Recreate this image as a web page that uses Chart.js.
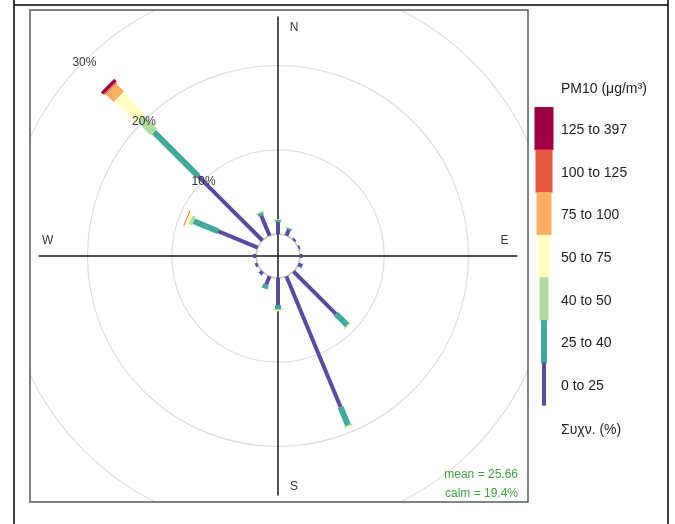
<!DOCTYPE html>
<html>
<head>
<meta charset="utf-8">
<script src="https://cdn.jsdelivr.net/npm/chart.js@4/dist/chart.umd.min.js"></script>
<style>
  html, body { margin: 0; padding: 0; background: #fff; }
  canvas { display: block; }
</style>
</head>
<body>
<canvas id="rose" width="675" height="524"></canvas>
<script>
// wind sectors (deg from north) and PM10 bins
const directions = [0, 22.5, 45, 67.5, 90, 112.5, 135, 157.5, 180, 202.5, 225, 247.5, 270, 292.5, 315, 337.5];
const binLabels  = ['0 to 25', '25 to 40', '40 to 50', '50 to 75', '75 to 100', '100 to 125', '125 to 397'];
const binColours = ['#5a4aa0', '#3fa99c', '#aedc9f', '#ffffbf', '#fbae60', '#e8583f', '#9e0142'];
const binWidths  = [4, 6, 9, 12, 15, 17, 19];

// frequency (%) per sector, one array per bin
const pm0_25    = [1.4, 0.8, 0.25, 0.2, 0.3, 0.5, 7.1, 16.8, 3.2, 1.1, 0.4, 0.3, 0.35, 5.1, 10.8, 2.6];
const pm25_40   = [0.25, 0.15, 0, 0, 0, 0.05, 1.9, 2.3, 0.5, 0.45, 0.05, 0, 0.03, 3.1, 7.4, 0.3];
const pm40_50   = [0.05, 0.03, 0, 0, 0, 0, 0.1, 0.15, 0.1, 0.05, 0, 0, 0, 0.4, 2.2, 0.1];
const pm50_75   = [0.1, 0.02, 0, 0, 0, 0, 0.15, 0.2, 0.15, 0.02, 0, 0, 0, 0.4, 3.7, 0.1];
const pm75_100  = [0, 0, 0, 0, 0, 0, 0, 0, 0, 0, 0, 0, 0, 0.05, 1.3, 0];
const pm100_125 = [0, 0, 0, 0, 0, 0, 0, 0, 0, 0, 0, 0, 0, 0.1, 0.2, 0.02];
const pm125_397 = [0, 0, 0, 0, 0, 0, 0, 0, 0, 0, 0, 0, 0, 0, 0.4, 0];
const binSeries = [pm0_25, pm25_40, pm40_50, pm50_75, pm75_100, pm100_125, pm125_397];

const gridPct = [10, 20, 30];
const calmOffset = 2.6;     // radius of the calm circle, in % units
const axisReach = 28.4;
const meanText = 'mean = 25.66';
const calmText = 'calm = 19.4%';
const legendTitle = 'PM10 (\u03bcg/m\u00b3)';
const freqTitle = '\u03a3\u03c5\u03c7\u03bd. (%)';

const FONT = '"Liberation Sans", Arial, sans-serif';

// build one line dataset per bin, paddles split by null points
const cum = directions.map(() => calmOffset);
const datasets = binSeries.map((vals, b) => {
  const pts = [];
  vals.forEach((v, i) => {
    if (v <= 0) return;
    const a = directions[i] * Math.PI / 180;
    const r0 = cum[i], r1 = cum[i] + v;
    cum[i] = r1;
    pts.push({ x: r0 * Math.sin(a), y: r0 * Math.cos(a) });
    pts.push({ x: r1 * Math.sin(a), y: r1 * Math.cos(a) });
    pts.push({ x: null, y: null });
  });
  return {
    label: binLabels[b],
    data: pts,
    borderColor: binColours[b],
    borderWidth: binWidths[b],
    borderCapStyle: 'butt',
    pointRadius: 0,
    spanGaps: false,
    tension: 0.0001  // keeps the normal path (fast path merges near-vertical points)
  };
});

const rosePlugin = {
  id: 'rose',
  beforeDatasetsDraw(chart) {
    const ctx = chart.ctx, xs = chart.scales.x, ys = chart.scales.y, area = chart.chartArea;
    const cx = xs.getPixelForValue(0), cy = ys.getPixelForValue(0);
    const unit = xs.getPixelForValue(1) - cx;
    ctx.save();
    ctx.beginPath();
    ctx.rect(area.left, area.top, area.right - area.left, area.bottom - area.top);
    ctx.clip();
    ctx.strokeStyle = '#dcdcdc';
    ctx.lineWidth = 1.2;
    gridPct.forEach(g => {
      ctx.beginPath();
      ctx.arc(cx, cy, (calmOffset + g) * unit, 0, Math.PI * 2);
      ctx.stroke();
    });
    ctx.strokeStyle = '#c4c4c4';
    ctx.lineWidth = 1.5;
    ctx.beginPath();
    ctx.arc(cx, cy, calmOffset * unit, 0, Math.PI * 2);
    ctx.stroke();
    // cross hair
    const reach = axisReach * unit;
    ctx.strokeStyle = '#1a1a1a';
    ctx.lineWidth = 1.5;
    ctx.beginPath();
    ctx.moveTo(cx, cy - reach); ctx.lineTo(cx, cy + reach);
    ctx.moveTo(cx - reach, cy); ctx.lineTo(cx + reach, cy);
    ctx.stroke();
    // compass letters
    ctx.fillStyle = '#333';
    ctx.font = '12px ' + FONT;
    ctx.textAlign = 'center';
    ctx.textBaseline = 'middle';
    const lr = 27.1 * unit;
    ctx.fillText('N', cx + 16, cy - lr);
    ctx.fillText('S', cx + 16, cy + lr + 2);
    ctx.fillText('E', cx + lr - 2, cy - 15);
    ctx.fillText('W', cx - lr - 2, cy - 15);
    ctx.restore();
  },
  afterDatasetsDraw(chart) {
    const ctx = chart.ctx, xs = chart.scales.x, ys = chart.scales.y, area = chart.chartArea;
    const cx = xs.getPixelForValue(0), cy = ys.getPixelForValue(0);
    const unit = xs.getPixelForValue(1) - cx;
    ctx.save();
    // percent labels along the NW diagonal
    ctx.fillStyle = '#333';
    ctx.font = '12px ' + FONT;
    ctx.textAlign = 'center';
    ctx.textBaseline = 'middle';
    gridPct.forEach(g => {
      const r = (calmOffset + g) * unit - 1;
      ctx.fillText(g + '%', cx - r * Math.SQRT1_2, cy - r * Math.SQRT1_2);
    });
    // plot frame
    ctx.strokeStyle = '#5a5a5a';
    ctx.lineWidth = 1.5;
    ctx.strokeRect(area.left, area.top, area.right - area.left, area.bottom - area.top);
    // mean / calm
    ctx.fillStyle = '#3f9f3f';
    ctx.font = '12px ' + FONT;
    ctx.textAlign = 'right';
    ctx.fillText(meanText, area.right - 10, area.bottom - 27);
    ctx.fillText(calmText, area.right - 10, area.bottom - 8);
    // legend
    const lx = 544, top = 107, h = 42.6;
    ctx.textAlign = 'left';
    ctx.fillStyle = '#222';
    ctx.font = '14px ' + FONT;
    ctx.fillText(legendTitle, 561, 89);
    for (let k = binLabels.length - 1, j = 0; k >= 0; k--, j++) {
      const w = binWidths[k];
      ctx.fillStyle = binColours[k];
      ctx.fillRect(lx - w / 2, top + j * h, w, h + 0.5);
      ctx.fillStyle = '#222';
      ctx.fillText(binLabels[k], 561, top + j * h + h / 2 + 2);
    }
    ctx.fillText(freqTitle, 561, 430);
    // outer page frame
    ctx.strokeStyle = '#000';
    ctx.lineWidth = 1.5;
    ctx.beginPath();
    ctx.moveTo(14, 5); ctx.lineTo(668, 5);
    ctx.moveTo(14, 0); ctx.lineTo(14, 524);
    ctx.moveTo(668, 0); ctx.lineTo(668, 524);
    ctx.stroke();
    ctx.restore();
  }
};

new Chart(document.getElementById('rose'), {
  type: 'line',
  data: { datasets },
  options: {
    responsive: false,
    animation: false,
    layout: { padding: { left: 30, top: 10, right: 147, bottom: 22 } },
    scales: {
      x: { type: 'linear', min: -29.42, max: 29.66, display: false },
      y: { type: 'linear', min: -29.18, max: 29.18, display: false }
    },
    plugins: { legend: { display: false }, tooltip: { enabled: false } },
    elements: { point: { radius: 0 } }
  },
  plugins: [rosePlugin]
});
</script>
</body>
</html>
